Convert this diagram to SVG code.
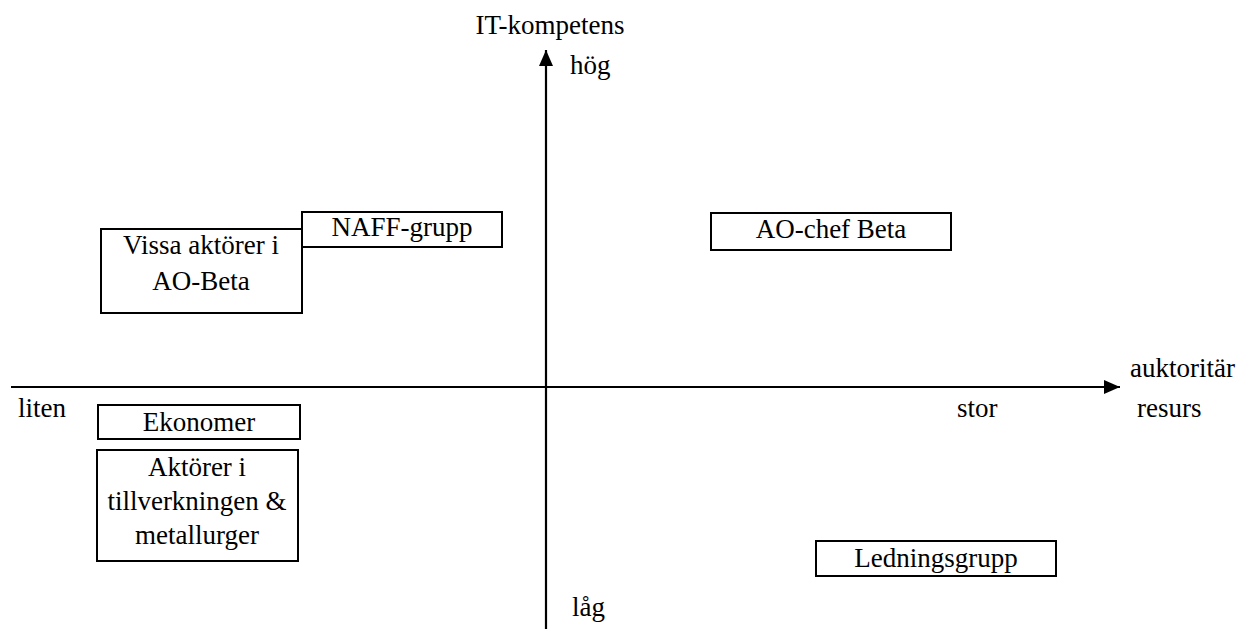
<svg xmlns="http://www.w3.org/2000/svg" width="1245" height="629" viewBox="0 0 1245 629">
  <style>
    text { font-family: "Liberation Serif", serif; font-size: 27px; fill: #000; }
    .c { text-anchor: middle; }
    .box { fill: #fff; stroke: #000; stroke-width: 2; }
    .axis { stroke: #000; stroke-width: 2.2; fill: none; }
  </style>
  <defs>
    <marker id="arrow" viewBox="0 0 16 14" refX="16" refY="7" markerWidth="16" markerHeight="14" markerUnits="userSpaceOnUse" orient="auto">
      <path d="M0,0 L16,7 L0,14 z" fill="#000"/>
    </marker>
  </defs>
  <rect width="1245" height="629" fill="#fff"/>

  <!-- the two axes of the quadrant chart -->
  <g id="connectors">
    <line class="axis" x1="546" y1="629" x2="546" y2="50" marker-end="url(#arrow)"/>
    <line class="axis" x1="11" y1="387" x2="1120" y2="387" marker-end="url(#arrow)"/>
  </g>

  <g id="axis-labels">
    <text x="550" y="34" class="c">IT-kompetens</text>
    <text x="570" y="74">hög</text>
    <text x="572" y="616">låg</text>
    <text x="18" y="417">liten</text>
    <text x="957" y="417">stor</text>
    <text x="1130" y="377">auktoritär</text>
    <text x="1137" y="417">resurs</text>
  </g>

  <g id="vissa-aktorer">
    <rect class="box" x="101" y="229" width="201" height="84"/>
    <text x="201" y="254" class="c">Vissa aktörer i</text>
    <text x="201" y="290" class="c">AO-Beta</text>
  </g>

  <g id="naff-grupp">
    <rect class="box" x="302" y="212" width="200" height="35"/>
    <text x="402" y="236" class="c">NAFF-grupp</text>
  </g>

  <g id="ao-chef-beta">
    <rect class="box" x="711" y="213" width="240" height="37"/>
    <text x="831" y="238" class="c">AO-chef Beta</text>
  </g>

  <g id="ekonomer">
    <rect class="box" x="98" y="405" width="202" height="34"/>
    <text x="199" y="431" class="c">Ekonomer</text>
  </g>

  <g id="aktorer-tillverkningen">
    <rect class="box" x="97" y="450" width="201" height="111"/>
    <text x="197" y="476" class="c">Aktörer i</text>
    <text x="197" y="510" class="c">tillverkningen &amp;</text>
    <text x="197" y="544" class="c">metallurger</text>
  </g>

  <g id="ledningsgrupp">
    <rect class="box" x="816" y="541" width="240" height="35"/>
    <text x="936" y="567" class="c">Ledningsgrupp</text>
  </g>
</svg>
